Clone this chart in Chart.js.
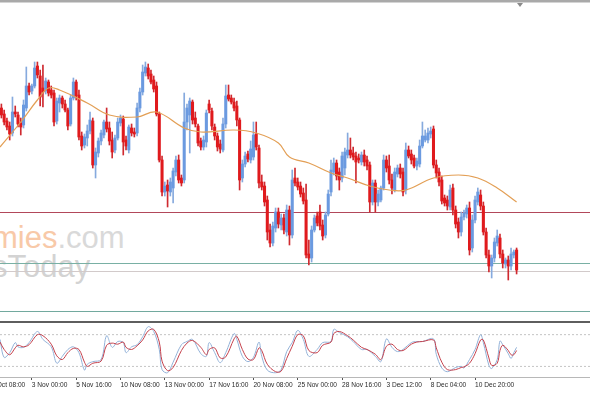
<!DOCTYPE html>
<html>
<head>
<meta charset="utf-8">
<script src="https://cdn.jsdelivr.net/npm/chart.js@4.4.1/dist/chart.umd.min.js"></script>
<style>
html, body { margin: 0; padding: 0; background: #fff; }
#wrap { position: relative; width: 590px; height: 393px; overflow: hidden; background: #fff; }
canvas { position: absolute; left: 0; }
#main { top: 0; }
#stoch { top: 323px; }
.topbar { position: absolute; left: 0; top: 0; width: 590px; height: 2px; background: #a9a9a9; border-bottom: 1px solid #d4d4d4; }
.sep { position: absolute; left: 0; top: 321px; width: 590px; height: 2px; background: #5e5e5e; }
.mark { position: absolute; left: 517px; top: 3px; width: 0; height: 0; border-left: 3px solid transparent; border-right: 3px solid transparent; border-top: 4px solid #8a8a8a; }
.wm { position: absolute; white-space: nowrap; line-height: 1; font-family: "Liberation Sans", Arial, sans-serif; color: #d9d9d9; }
.wm1 { left: -8px; top: 222px; font-size: 31px; }
.wm1 span { color: #f8c9a8; }
.wm2 { left: -8px; top: 251px; font-size: 31px; color: #d3d3d3; }
</style>
</head>
<body>
<div id="wrap">
  <div class="wm wm1"><span>mies</span>.com</div>
  <div class="wm wm2">sToday</div>
  <canvas id="main" width="590" height="320"></canvas>
  <div class="sep"></div>
  <canvas id="stoch" width="590" height="70"></canvas>
  <div class="topbar"></div>
  <div class="mark"></div>
</div>
<script>
// H4 candles, one entry per bar
const open = [292,286,279,274,267,288,285,277,275,292,
  314,309,314,334,324,312,309,318,310,307,
  279,297,302,296,290,276,302,318,305,264,
  255,262,269,279,235,247,259,265,278,272,
  260,250,262,277,281,260,250,272,268,267,
  292,308,327,332,326,320,314,286,240,208,
  215,208,212,228,240,222,220,278,285,298,
  282,274,259,253,258,296,289,273,264,256,
  250,276,305,302,298,294,280,222,236,246,
  240,243,266,252,218,214,200,170,157,172,
  188,175,182,168,190,165,222,218,214,207,
  200,146,142,170,184,188,175,165,186,208,
  228,237,228,222,232,245,250,247,244,242,
  238,245,240,235,198,217,198,200,212,240,
  234,220,210,226,232,228,210,250,246,242,
  234,236,254,260,260,266,271,235,228,220,
  202,200,193,212,190,178,168,183,186,192,
  152,180,198,205,194,168,145,134,142,157,
  162,146,136,140,134,145,150];
const high = [296,290,282,278,303,294,288,282,300,333,
  317,316,338,338,330,335,322,320,314,310,
  302,305,304,300,292,305,322,320,310,268,
  266,275,288,282,252,262,270,280,292,278,
  268,265,282,285,284,264,275,276,272,297,
  312,335,338,336,330,324,318,288,244,218,
  220,222,232,244,245,225,307,296,302,300,
  288,276,262,264,290,300,292,276,267,260,
  282,315,315,305,302,299,282,240,248,249,
  259,278,278,255,225,218,204,176,178,192,
  192,186,186,195,194,230,232,222,218,212,
  216,160,174,185,188,195,180,188,210,240,
  242,240,232,248,252,267,262,253,248,246,
  248,250,244,238,220,220,210,214,245,244,
  245,226,232,235,236,232,257,254,250,245,
  242,260,278,270,272,273,274,240,232,224,
  205,204,215,216,194,182,188,190,195,198,
  185,204,212,210,198,172,150,145,162,170,
  166,150,142,144,152,150,152];
const low = [282,275,270,260,264,283,273,265,272,289,
  305,306,312,322,294,293,306,304,302,274,
  276,288,292,288,270,274,300,300,260,250,
  252,254,266,232,222,243,255,262,268,255,
  242,247,260,274,245,250,247,264,263,264,
  288,305,324,321,316,308,284,238,204,204,
  193,204,197,224,217,214,217,270,247,276,
  273,254,250,250,253,287,270,260,249,247,
  248,272,299,296,289,274,210,218,233,238,
  237,240,250,212,210,194,160,153,154,168,
  172,170,166,164,155,162,214,210,203,196,
  142,135,138,168,174,170,160,162,184,204,
  225,220,210,218,225,242,242,240,217,237,
  235,234,230,188,195,188,194,198,210,228,
  216,206,208,223,222,204,206,242,236,232,
  230,233,252,258,257,262,232,222,214,196,
  194,190,190,185,172,162,164,180,182,145,
  148,177,195,190,165,142,128,122,138,154,
  142,132,132,120,130,142,126];
const close = [285,278,273,266,288,286,276,273,295,314,
  308,314,332,325,303,308,319,307,305,278,
  299,302,296,290,274,302,318,304,263,254,
  263,269,280,235,248,259,267,278,271,259,
  248,262,278,282,258,254,273,267,266,292,
  308,328,333,324,318,311,286,240,208,214,
  209,218,229,240,220,217,278,292,299,280,
  276,257,253,260,287,290,274,264,253,251,
  276,304,301,298,292,280,220,236,244,241,
  251,265,253,217,213,198,168,157,174,188,
  176,182,170,190,165,220,217,213,206,199,
  145,142,170,182,177,174,164,185,206,230,
  237,224,220,244,248,250,245,243,238,240,
  245,238,234,198,217,198,206,212,240,232,
  220,212,228,232,226,208,250,244,240,234,
  239,254,264,264,267,269,235,227,218,199,
  197,194,210,190,176,168,183,187,192,150,
  180,200,208,194,168,145,134,142,158,164,
  146,137,140,134,146,148,130];

// moving average read at a few bars
const maX =   [-0.5, 7, 13, 17, 21, 31, 39, 49, 56, 66, 72, 84, 92, 100, 104, 111, 119, 125, 133, 140, 146, 156, 165, 172, 179, 186];
const maVal = [253, 278, 300, 312, 310, 297, 285, 283, 288, 272, 268, 270, 267, 257, 243, 237, 227, 222, 214, 210, 210, 222, 225, 222, 212, 198];

// horizontal levels
const levels = [187.5, 136.5, 128.5, 88.5];
const levelColors = ['#b2475a', '#79b0a4', '#d2caca', '#72a99e'];

// stochastic oscillator
const stochX = [-0.5,1,3,5,6,8,10,13,15,18,20,22,24,26,28,30,31,33,36,38,40,42,44,45,47,49,51,53,55,57,58,60,62,65,67,69,72,74,75,77,79,81,84,85,87,89,91,93,94,96,99,101,103,105,107,109,111,114,116,119,120,122,125,127,130,132,135,137,139,141,143,145,148,150,152,156,157,159,161,164,166,167,169,171,173,174,176,177,179,180,181,183,184,185,186];
const stochK = [71,37,46,65,57,56,65,86,71,57,26,39,52,57,46,13,24,29,33,78,56,67,65,46,57,61,76,95,86,52,14,8,28,61,67,71,44,39,65,46,27,46,82,71,39,29,37,66,39,13,8,14,48,65,88,71,39,52,65,67,90,84,76,67,52,52,39,29,72,56,48,52,65,67,67,72,43,17,10,18,20,17,33,52,80,65,22,16,33,68,61,44,35,46,56];
const stochD = [66,52,42,55,60,57,61,80,78,62,40,33,46,54,52,28,20,26,30,60,64,62,66,56,52,59,70,87,90,66,30,12,18,50,64,69,56,42,52,55,36,38,72,77,52,34,33,55,50,24,10,11,35,58,80,78,50,46,60,66,82,86,78,70,56,52,43,33,58,62,52,50,62,66,67,70,55,28,14,14,18,19,26,44,70,70,36,22,26,50,60,50,42,42,50];
const stochLevels = [20, 80];

// time axis
const tickBars = [-5, 11, 27, 43, 59, 75, 91, 107, 123, 139, 155, 171];
const timeLabels = ['29 Oct 08:00', '3 Nov 00:00', '5 Nov 16:00', '10 Nov 08:00', '13 Nov 00:00', '17 Nov 16:00',
  '20 Nov 08:00', '25 Nov 00:00', '28 Nov 16:00', '3 Dec 12:00', '8 Dec 04:00', '10 Dec 20:00'];

const UP = '#6b9ae0';
const DOWN = '#e01a1d';
const bodyColors = close.map((c, i) => c >= open[i] ? UP : DOWN);
const wickColors = close.map((c, i) => c >= open[i] ? '#86aade' : '#cf2a30');
const XMIN = -0.5, XMAX = 212.5;

new Chart(document.getElementById('main'), {
  type: 'bar',
  data: {
    datasets: [
      {
        type: 'line',
        data: maX.map((x, k) => ({ x: x, y: maVal[k] })),
        borderColor: '#e39f55',
        borderWidth: 1.2,
        pointRadius: 0,
        tension: 0.4,
        order: 0
      },
      {
        data: open.map((o, i) => ({ x: i, y: [o, close[i]] })),
        backgroundColor: bodyColors,
        barThickness: 2.4,
        minBarLength: 1,
        grouped: false,
        order: 1
      },
      {
        data: open.map((o, i) => ({ x: i, y: [low[i], high[i]] })),
        backgroundColor: wickColors,
        barThickness: 1,
        grouped: false,
        order: 2
      },
      ...levels.map((v, k) => ({
        type: 'line',
        data: [{ x: XMIN, y: v }, { x: XMAX, y: v }],
        borderColor: levelColors[k],
        borderWidth: 1,
        pointRadius: 0,
        order: 3
      }))
    ]
  },
  options: {
    responsive: false,
    animation: false,
    layout: { padding: 0, autoPadding: false },
    plugins: { legend: { display: false }, tooltip: { enabled: false } },
    scales: {
      x: { type: 'linear', min: XMIN, max: XMAX, offset: false, display: false },
      y: { min: 80, max: 400, display: false }
    }
  }
});

new Chart(document.getElementById('stoch'), {
  type: 'line',
  data: {
    datasets: [
      {
        data: stochX.map((x, k) => ({ x: x, y: stochD[k] })),
        borderColor: '#c5414c',
        borderWidth: 1,
        pointRadius: 0,
        tension: 0.35,
        order: 0
      },
      {
        data: stochX.map((x, k) => ({ x: x, y: stochK[k] })),
        borderColor: '#93b2d8',
        borderWidth: 1,
        pointRadius: 0,
        tension: 0.35,
        order: 1
      },
      ...stochLevels.map(v => ({
        data: [{ x: XMIN, y: v }, { x: XMAX, y: v }],
        borderColor: '#c4c4c4',
        borderWidth: 1,
        borderDash: [2, 2],
        pointRadius: 0,
        order: 2
      }))
    ]
  },
  options: {
    responsive: false,
    animation: false,
    layout: { padding: 0, autoPadding: false },
    plugins: { legend: { display: false }, tooltip: { enabled: false } },
    scales: {
      x: {
        type: 'linear',
        min: XMIN,
        max: XMAX,
        offset: false,
        afterBuildTicks: s => { s.ticks = tickBars.map(v => ({ value: v })); },
        afterFit: s => { s.height = 16; s.paddingLeft = 0; s.paddingRight = 0; },
        ticks: {
          autoSkip: false,
          maxRotation: 0,
          minRotation: 0,
          align: 'start',
          padding: 1,
          color: '#2a2a2a',
          font: { family: 'Liberation Sans', size: 6.6 },
          callback: (v, idx) => timeLabels[idx]
        },
        grid: { drawOnChartArea: false, drawTicks: true, tickLength: 3, color: '#555' },
        border: { display: true, color: '#b8b8b8' }
      },
      y: { min: 0, max: 102, display: false }
    }
  }
});
</script>
</body>
</html>
